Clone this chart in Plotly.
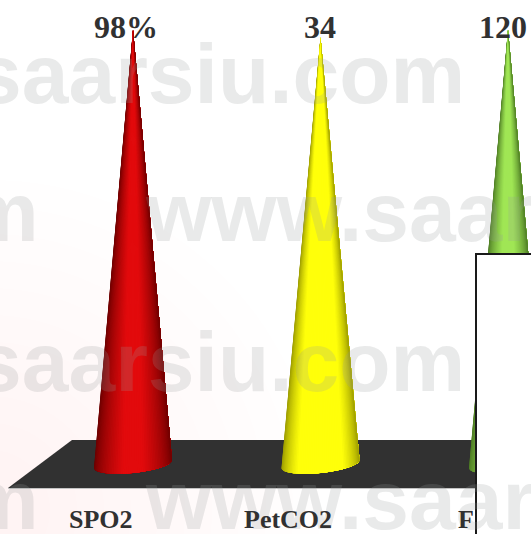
import numpy as np
import plotly.graph_objects as go

# Vital-sign gauges: each cone rises to value / full scale of its own gauge
categories = ["SPO2", "PetCO2", "F"]
readings = [98, 34, 120]
value_labels = ["98%", "34", "120"]
gauge_full_scale = [98, 34.6, 120]

# Cone colours: (edge shade, centre highlight), plus how far the rim shading reaches
edge_colors = [(105, 0, 0), (150, 150, 0), (75, 120, 35)]
centre_colors = [(226, 10, 12), (255, 255, 10), (160, 230, 85)]
rim_widths = [0.75, 0.42, 0.7]

W, H = 531, 534
X0, DX = 133.0, 187.5      # pixel position of first cone, spacing between cones
BASE_PX, UNIT_PX = 464.0, 434.0  # pixel row of gauge zero, pixels per full scale

CONE_HALF = 39.0 / DX
BASE_DEPTH = 9.0 / UNIT_PX
BASE_TILT = 4.0 / UNIT_PX
STRIPS = 60
DARK = "#313131"


def px(x):
    return x / W


def py(y):
    return 1 - y / H


def shade(edge, centre, rim, u):
    # u runs from -1 (left rim) to 1 (right rim); the highlight sits near the middle
    k = np.clip((1 - abs(u)) / rim, 0, 1) ** 0.65
    rgb = [int(round(e + (c - e) * k)) for e, c in zip(edge, centre)]
    return f"rgb({rgb[0]},{rgb[1]},{rgb[2]})"


def base_curve(t):
    return BASE_DEPTH * -np.sqrt(np.clip(1 - t**2, 0, 1)) + BASE_TILT * t


fig = go.Figure()

for i, (value, full) in enumerate(zip(readings, gauge_full_scale)):
    tip = value / full
    ts = np.sin(np.linspace(-np.pi / 2, np.pi / 2, STRIPS + 1))
    # Each layer runs from its left boundary to the right rim, so the next layer
    # paints over it and no seams appear between neighbouring shades
    for k, a in enumerate(ts[:-1]):
        seg = np.linspace(a, 1, 40)
        color = shade(edge_colors[i], centre_colors[i], rim_widths[i], (a + ts[k + 1]) / 2)
        fig.add_trace(go.Scatter(
            x=np.r_[i, i + CONE_HALF * seg, i], y=np.r_[tip, base_curve(seg), tip],
            mode="lines", fill="toself", fillcolor=color,
            line=dict(width=0),
            hoverinfo="skip", showlegend=False,
        ))

shapes = []

# Faint pink glow in the lower-left corner of the page
for r in range(60, 340, 27):
    shapes.append(dict(
        type="circle", xref="paper", yref="paper", layer="below",
        x0=px(-10 - r), x1=px(-10 + r), y0=py(510 + r), y1=py(510 - r),
        fillcolor="rgba(255,190,190,0.008)", line=dict(width=0),
    ))

# Dark floor the cones stand on
shapes.append(dict(
    type="path", xref="paper", yref="paper", layer="below",
    path=f"M {px(72)} {py(440)} L {px(531)} {py(440)} L {px(531)} {py(488)} L {px(8)} {py(488)} Z",
    fillcolor=DARK, line=dict(width=0),
))
shapes.append(dict(
    type="line", xref="paper", yref="paper", layer="below",
    x0=px(8), x1=px(531), y0=py(488.5), y1=py(488.5),
    line=dict(color="#c4c4c4", width=1.2),
))

# White panel covering the right-hand part of the chart
shapes.append(dict(
    type="rect", xref="paper", yref="paper", layer="above",
    x0=px(476), x1=px(540), y0=py(254), y1=py(540),
    fillcolor="white", line=dict(color="#1a1a1a", width=2),
))

annotations = []

# Repeated site name running across the page
watermark = [
    ("saarsiu.com", -27, 104),
    ("m", -38, 242),
    ("www.saar", 143, 242),
    ("saarsiu.com", -27, 392),
    ("m", -38, 530),
    ("www.saar", 143, 530),
]
for text, left, baseline in watermark:
    annotations.append(dict(
        text=f"<b>{text}</b>", xref="paper", yref="paper", x=px(left), y=py(baseline),
        xanchor="left", yanchor="bottom", yshift=-19, showarrow=False,
        font=dict(family="Liberation Sans", size=84, color="rgba(150,155,155,0.21)"),
    ))

# Readings above the tips and category names below the floor
value_label_px = [126, 320, 503]
for text, x in zip(value_labels, value_label_px):
    annotations.append(dict(
        text=f"<b>{text}</b>", xref="paper", yref="paper", x=px(x), y=py(27),
        xanchor="center", yanchor="middle", showarrow=False,
        font=dict(family="Liberation Serif", size=32, color=DARK),
    ))

category_label_px = [101, 288, 466]
for text, x in zip(categories, category_label_px):
    annotations.append(dict(
        text=f"<b>{text}</b>", xref="paper", yref="paper", x=px(x), y=py(519),
        xanchor="center", yanchor="middle", showarrow=False,
        font=dict(family="Liberation Serif", size=26, color=DARK),
    ))

fig.update_layout(
    width=W, height=H,
    margin=dict(l=0, r=0, t=0, b=0),
    paper_bgcolor="white", plot_bgcolor="rgba(0,0,0,0)",
    xaxis=dict(visible=False, fixedrange=True, range=[(0 - X0) / DX, (W - X0) / DX]),
    yaxis=dict(visible=False, fixedrange=True, range=[(BASE_PX - H) / UNIT_PX, BASE_PX / UNIT_PX]),
    shapes=shapes, annotations=annotations, showlegend=False,
)

fig.write_html("out.html", config={"displayModeBar": False})
